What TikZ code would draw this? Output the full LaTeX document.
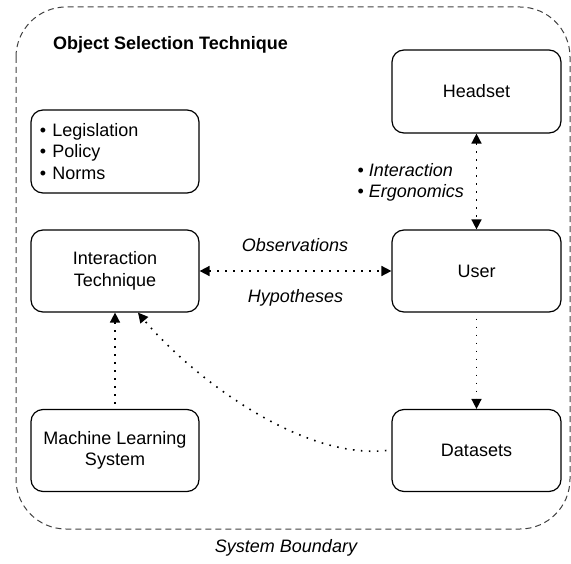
\documentclass[tikz,border=0pt]{standalone}
\usepackage{fontspec}
\setmainfont{Liberation Sans}
\usetikzlibrary{arrows.meta}

\begin{document}
\begin{tikzpicture}[%
  x=1bp, y=-1bp,
  font=\fontsize{18bp}{21.6bp}\selectfont,
  >={Triangle[length=10bp,width=10bp]},
  box/.style={draw, line width=1.2bp, rounded corners=12bp,
    minimum width=168bp, minimum height=82bp, align=center},
  flow/.style={line width=1.6bp, dash pattern=on 1.6bp off 6.4bp},
  note/.style={font=\fontsize{18bp}{21.6bp}\selectfont\itshape},
  boundary/.style={draw=black!75, line width=1bp, dash pattern=on 6bp off 4bp,
    rounded corners=50bp}]
  \useasboundingbox (0,0) rectangle (571,564);
  \draw[boundary] (16,7) rectangle (570,529);
  \node[anchor=west, inner sep=0pt, font=\fontsize{18bp}{21.6bp}\selectfont\bfseries]
    (title) at (53,45) {Object Selection Technique};

  \node[box, minimum width=169bp, minimum height=83bp] (headset) at (476.5,91.5) {Headset};
  \node[box, minimum height=83bp, text width=150bp, align=left] (rules) at (115,151.5)
    {\textbullet{} Legislation\\ \textbullet{} Policy\\ \textbullet{} Norms};
  \node[box] (it) at (115,271) {Interaction\\Technique};
  \node[box, minimum width=169bp] (user) at (476.5,271) {User};
  \node[box] (ml) at (115,450.5) {Machine Learning\\System};
  \node[box, minimum width=169bp] (data) at (476.5,450.5) {Datasets};

  \node[note, anchor=west, align=left] (aspects) at (354,182.5)
    {{\upshape\textbullet} Interaction\\{\upshape\textbullet} Ergonomics};
  \node[note] (obs) at (295,245) {Observations};
  \node[note] (hyp) at (295.5,298) {Hypotheses};
  \node[note] (sysb) at (286,548) {System Boundary};

  \draw[flow, <->] (headset) -- (user);
  \draw[flow, <->] (it) -- (user);
  \draw[flow, ->, shorten <=6bp] (user) -- (data);
  \draw[flow, ->, shorten <=5bp] (ml) -- (it);
  \draw[flow, ->] ([xshift=-5bp]data.west) .. controls (300,460) and (190,375)
    .. ([xshift=23bp]it.south);
\end{tikzpicture}
\end{document}
